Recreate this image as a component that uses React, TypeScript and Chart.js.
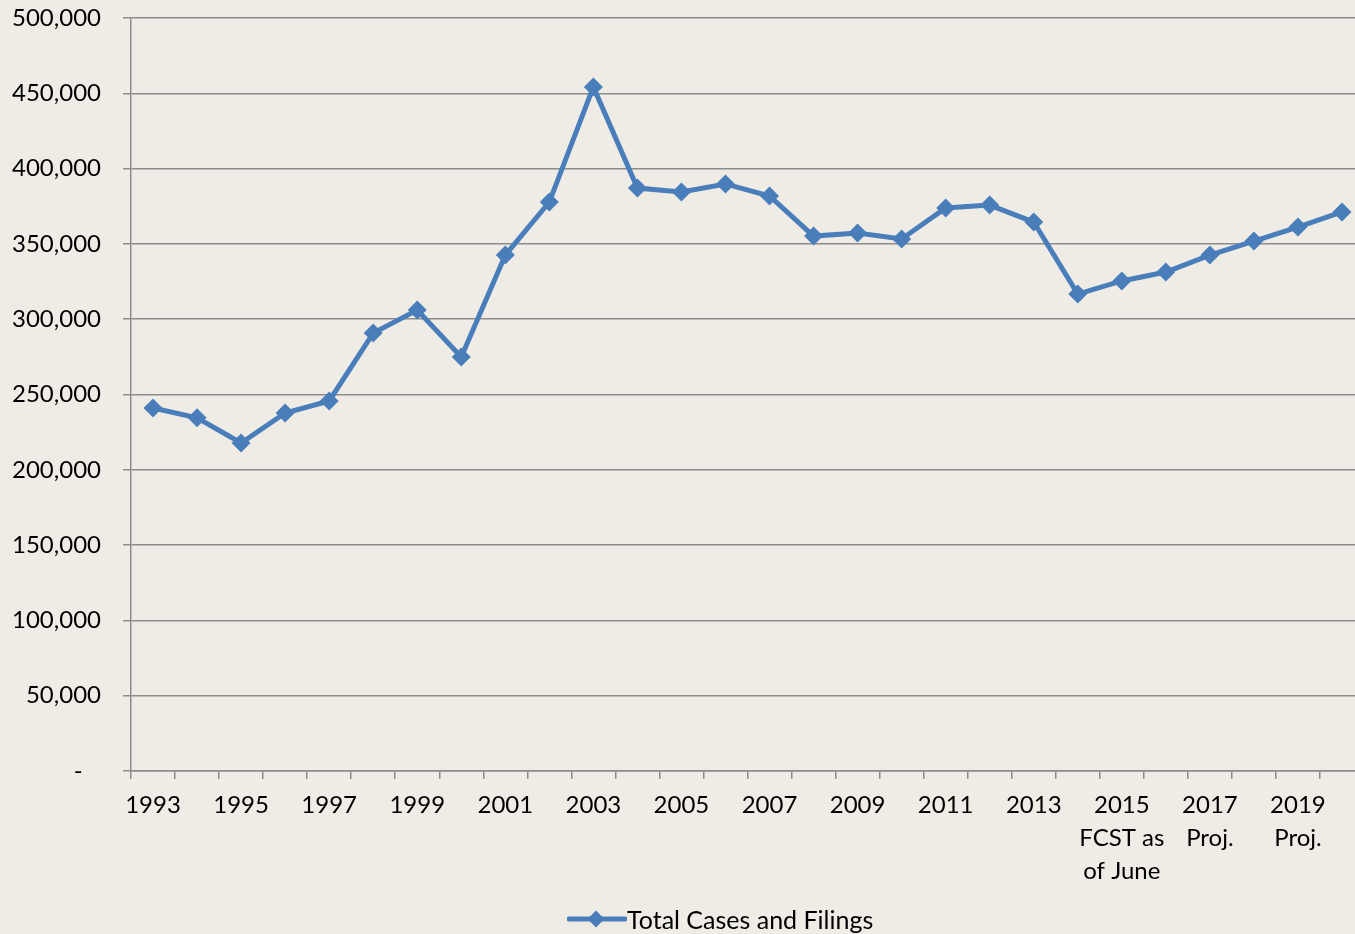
import React, { useEffect, useRef } from 'react';
import { Chart, registerables } from 'chart.js';

Chart.register(...registerables);

const years: string[] = [
  '1993', '1994', '1995', '1996', '1997', '1998', '1999', '2000', '2001', '2002',
  '2003', '2004', '2005', '2006', '2007', '2008', '2009', '2010', '2011', '2012',
  '2013', '2014', '2015', '2016', '2017', '2018', '2019', '2020',
];

const totalCasesAndFilings: number[] = [
  241000, 234500, 217800, 237700, 245700, 290800, 306100, 274900, 342600, 377800,
  454200, 387100, 384500, 389800, 381800, 355200, 357200, 353300, 373800, 375800,
  364500, 316700, 325400, 331300, 342600, 351900, 361200, 371200,
];

const xTickLabels: (string | string[])[] = [
  '1993', '', '1995', '', '1997', '', '1999', '', '2001', '',
  '2003', '', '2005', '', '2007', '', '2009', '', '2011', '',
  '2013', '', ['2015', 'FCST as', 'of June'], '', ['2017', 'Proj.'], '', ['2019', 'Proj.'], '',
];

const seriesLabel = 'Total Cases and Filings';
const yMin = 0;
const yMax = 500000;
const yStep = 50000;

const BG = '#efece6';
const LINE = '#4a7ebb';
const GRID = '#8c8c8c';
const FONT = 'Lato, "Open Sans", sans-serif';

export default function App() {
  const ref = useRef<HTMLCanvasElement | null>(null);

  useEffect(() => {
    if (!ref.current) return;
    const chart = new Chart(ref.current, {
      type: 'line',
      data: {
        labels: years,
        datasets: [
          {
            label: seriesLabel,
            data: totalCasesAndFilings,
            borderColor: LINE,
            backgroundColor: LINE,
            borderWidth: 5,
            pointStyle: 'rectRot',
            pointRadius: 9.5,
            pointBorderWidth: 0,
            pointBackgroundColor: LINE,
            tension: 0,
          },
        ],
      },
      options: {
        animation: false,
        responsive: true,
        maintainAspectRatio: false,
        layout: { autoPadding: false, padding: { top: 18, right: 16, left: 0, bottom: 0 } },
        plugins: {
          legend: { display: false },
          tooltip: { enabled: false },
        },
        scales: {
          x: {
            type: 'category',
            offset: true,
            grid: {
              offset: true,
              drawOnChartArea: false,
              drawTicks: true,
              tickLength: 8,
              color: GRID,
              lineWidth: 1.5,
            },
            border: { color: GRID, width: 1.5 },
            ticks: {
              autoSkip: false,
              maxRotation: 0,
              minRotation: 0,
              padding: 10,
              color: '#000',
              font: { family: FONT, size: 24, lineHeight: 1.375 },
              callback: (_v: any, i: number) => xTickLabels[i],
            },
            afterFit: (scale: any) => {
              scale.height = 163;
              scale.paddingLeft = 0;
              scale.paddingRight = 0;
            },
          },
          y: {
            min: yMin,
            max: yMax,
            grid: {
              color: GRID,
              lineWidth: 1.5,
              drawTicks: true,
              tickLength: 8,
            },
            border: { color: GRID, width: 1.5 },
            ticks: {
              stepSize: yStep,
              padding: 22,
              color: '#000',
              font: { family: FONT, size: 24, lineHeight: 1.375 },
              callback: (v: any) => (Number(v) === 0 ? '-   ' : Number(v).toLocaleString('en-US')),
            },
            afterFit: (scale: any) => {
              scale.width = 131;
              scale.paddingTop = 0;
              scale.paddingBottom = 0;
            },
          },
        },
      },
    });
    return () => chart.destroy();
  }, []);

  return (
    <div
      style={{
        position: 'fixed',
        left: 0,
        top: 0,
        width: '100vw',
        height: 934,
        overflow: 'hidden',
        background: BG,
      }}
    >
      <div style={{ position: 'absolute', left: 0, top: 0, width: 1380, height: 934 }}>
        <canvas ref={ref} />
      </div>
      <div
        style={{
          position: 'absolute',
          left: 567,
          top: 903,
          height: 32,
          display: 'flex',
          alignItems: 'center',
          fontFamily: FONT,
          fontSize: 25,
          color: '#000',
          whiteSpace: 'nowrap',
        }}
      >
        <svg width={60} height={20} style={{ display: 'block' }}>
          <line x1={2} y1={10} x2={58} y2={10} stroke={LINE} strokeWidth={5} strokeLinecap="round" />
          <polygon points="29,1.5 37.5,10 29,18.5 20.5,10" fill={LINE} />
        </svg>
        <span style={{ marginLeft: 0 }}>{seriesLabel}</span>
      </div>
    </div>
  );
}
